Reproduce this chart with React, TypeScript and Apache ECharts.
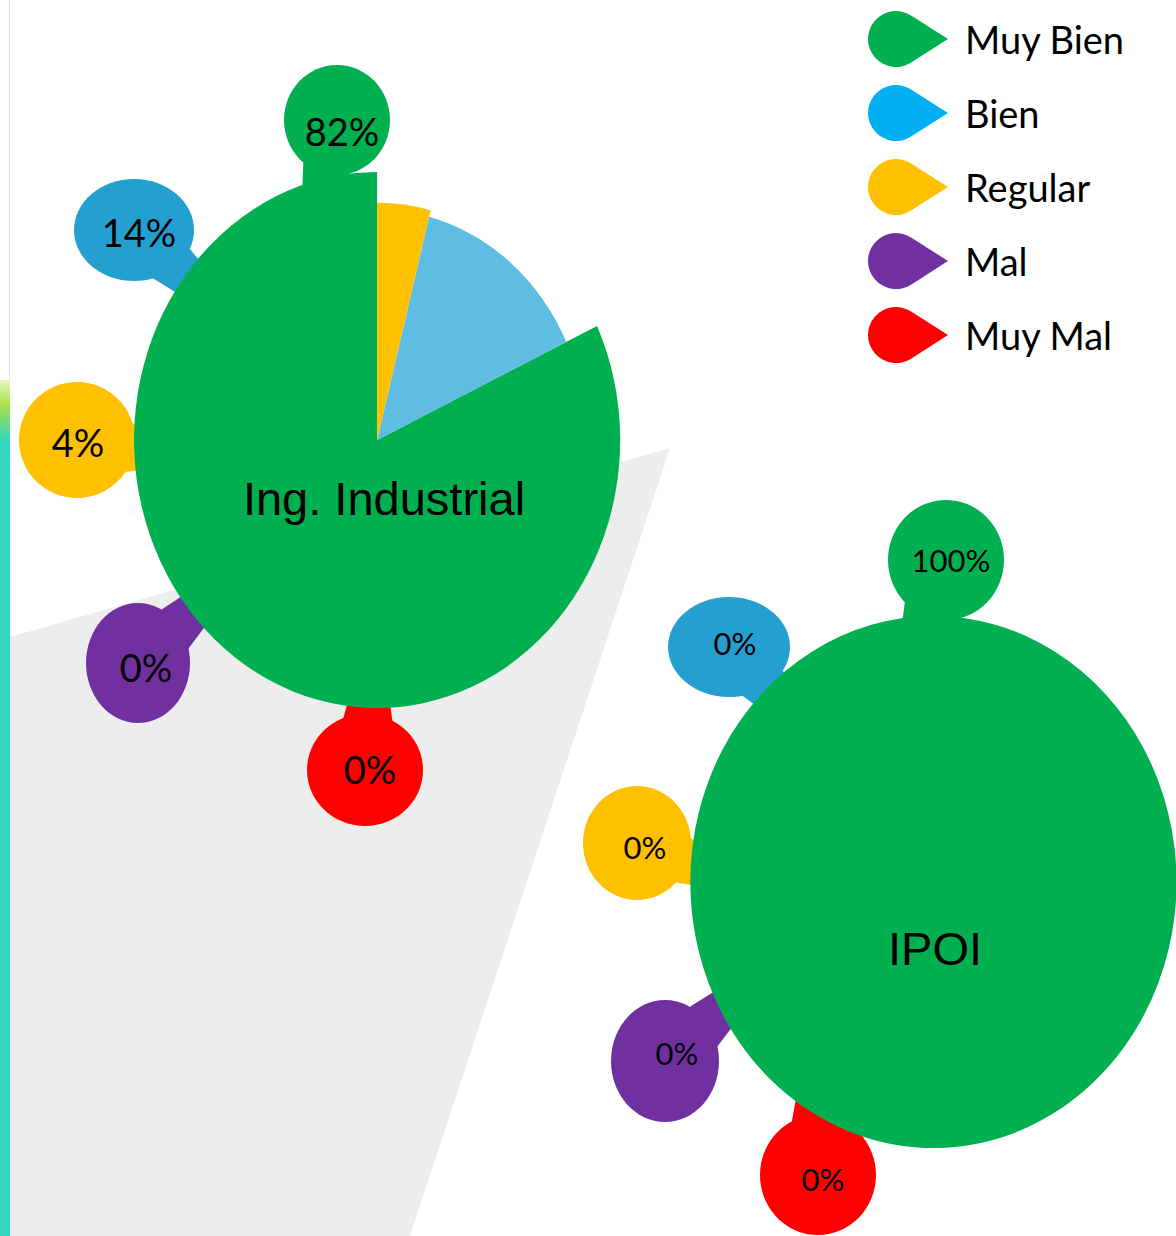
import React, { useEffect, useRef } from "react";
import * as echarts from "echarts";

// ---- data ----
const categories = ["Muy Bien", "Bien", "Regular", "Mal", "Muy Mal"];
const pieNames = ["Ing. Industrial", "IPOI"];
const ingIndustrial = [82, 14, 4, 0, 0];
const ipoi = [100, 0, 0, 0, 0];
const pieValues = [ingIndustrial, ipoi];

// ---- style / layout ----
const legendColors = ["#00B050", "#00B0F0", "#FFC000", "#7030A0", "#FF0000"];
const sliceColors = ["#00B050", "#5FBDE3", "#FFC000", "#7030A0", "#FF0000"];
const calloutColors = ["#00B050", "#259FD0", "#FFC000", "#7030A0", "#FF0000"];
const sliceRadiusScale = [1, 0.86, 0.885, 1, 1];

const pieCenters = [
  [377, 440],
  [933, 882],
];
const pieRadii = [
  [243, 268],
  [243, 266],
];
const pieNamePos = [
  [384, 498],
  [935, 948],
];
const labelSizes = [38, 31];

// blob: [cx, cy, rx, ry, tipX, tipY, textX, textY]
const calloutLayout = [
  [
    [337, 120, 53, 55, 318, 205, 342, 131],
    [134, 230, 60, 51, 205, 292, 139, 232],
    [77, 440, 58, 58, 158, 452, 78, 442],
    [138, 663, 52, 60, 205, 600, 146, 667],
    [365, 770, 58, 56, 370, 684, 370, 769],
  ],
  [
    [946, 560, 58, 60, 918, 636, 951, 560],
    [729, 647, 61, 50, 797, 718, 735, 643],
    [637, 843, 54, 57, 714, 872, 645, 847],
    [665, 1061, 54, 61, 732, 1000, 677, 1053],
    [818, 1175, 58, 60, 815, 1092, 823, 1179],
  ],
];

const LEGEND_ICON = "path://M80 28 L43.08 51.6 A28 28 0 1 1 43.08 4.4 Z";

export default function App() {
  const ref = useRef<HTMLDivElement>(null);

  useEffect(() => {
    document.body.style.margin = "0";
    if (!ref.current) return;
    const chart = echarts.init(ref.current, undefined, { renderer: "svg" });

    const pieData: number[][] = [];
    pieValues.forEach((vals, p) => vals.forEach((v, c) => pieData.push([p, c, v])));

    const pieSeries: any = {
      type: "custom",
      name: "pies",
      coordinateSystem: "none",
      z: 3,
      silent: true,
      data: pieData,
      renderItem: (params: any, api: any) => {
        const p = api.value(0) as number;
        const c = api.value(1) as number;
        const v = api.value(2) as number;
        if (!v) return null;
        const vals = pieValues[p];
        const total = vals.reduce((a, b) => a + b, 0);
        let before = 0;
        for (let i = 0; i < c; i++) before += vals[i];
        const start = -Math.PI / 2 - (before / total) * Math.PI * 2;
        const end = start - (v / total) * Math.PI * 2;
        const [cx, cy] = pieCenters[p];
        const [rx, ry] = pieRadii[p];
        const r = ry * sliceRadiusScale[c];
        return {
          type: "sector",
          shape: { cx, cy, r0: 0, r, startAngle: end, endAngle: start, clockwise: true },
          scaleX: rx / ry,
          originX: cx,
          originY: cy,
          style: { fill: sliceColors[c] },
        };
      },
    };

    const calloutSeries: any[] = categories.map((name, c) => ({
      type: "custom",
      name,
      coordinateSystem: "none",
      z: 2,
      silent: true,
      itemStyle: { color: legendColors[c] },
      data: pieValues.map((vals, p) => [p, vals[c]]),
      renderItem: (params: any, api: any) => {
        const p = api.value(0) as number;
        const v = api.value(1) as number;
        const [bx, by, brx, bry, tx, ty, lx, ly] = calloutLayout[p][c];
        const dx = tx - bx;
        const dy = ty - by;
        const len = Math.sqrt(dx * dx + dy * dy);
        const ux = dx / len;
        const uy = dy / len;
        const w = 0.62 * Math.min(brx, bry);
        const wt = 0.5 * w;
        const b1 = [bx - uy * w, by + ux * w];
        const b2 = [bx + uy * w, by - ux * w];
        const t2 = [tx + uy * wt, ty - ux * wt];
        const t1 = [tx - uy * wt, ty + ux * wt];
        const fill = calloutColors[c];
        return {
          type: "group",
          children: [
            { type: "polygon", shape: { points: [b1, b2, t2, t1] }, style: { fill } },
            { type: "ellipse", shape: { cx: bx, cy: by, rx: brx, ry: bry }, style: { fill } },
            {
              type: "text",
              style: {
                text: v + "%",
                x: lx,
                y: ly,
                align: "center",
                verticalAlign: "middle",
                fontSize: labelSizes[p],
                fontFamily: "Lato",
                fill: "#000",
              },
            },
          ],
        };
      },
    }));

    const option: any = {
      animation: false,
      backgroundColor: "#ffffff",
      legend: {
        data: categories,
        orient: "vertical",
        left: 863,
        top: 6,
        itemWidth: 80,
        itemHeight: 57,
        itemGap: 18,
        icon: LEGEND_ICON,
        selectedMode: false,
        textStyle: { fontFamily: "Lato", fontSize: 38, color: "#000", padding: [0, 0, 0, 12] },
      },
      graphic: [
        {
          type: "polygon",
          z: 0,
          silent: true,
          shape: { points: [[10, 637], [670, 448], [410, 1236], [10, 1236]] },
          style: { fill: "#EDEDED" },
        },
        {
          type: "line",
          z: 0,
          silent: true,
          shape: { x1: 9.5, y1: 0, x2: 9.5, y2: 390 },
          style: { stroke: "#E2E2E2", lineWidth: 1 },
        },
        {
          type: "rect",
          z: 0,
          silent: true,
          shape: { x: 0, y: 380, width: 10, height: 856 },
          style: {
            fill: new echarts.graphic.LinearGradient(0, 0, 0, 1, [
              { offset: 0, color: "#E8F5C0" },
              { offset: 0.03, color: "#A8E04A" },
              { offset: 0.07, color: "#36D6BE" },
              { offset: 1, color: "#36D6BE" },
            ]),
          },
        },
        ...pieNames.map((n, p) => ({
          type: "text",
          z: 100,
          silent: true,
          style: {
            text: n,
            x: pieNamePos[p][0],
            y: pieNamePos[p][1],
            align: "center",
            verticalAlign: "middle",
            fontSize: 47,
            fontFamily: "Liberation Sans",
            fill: "#000",
          },
        })),
      ],
      series: [...calloutSeries, pieSeries],
    };

    chart.setOption(option);
    return () => chart.dispose();
  }, []);

  return <div ref={ref} style={{ width: 1176, height: 1236 }} />;
}
